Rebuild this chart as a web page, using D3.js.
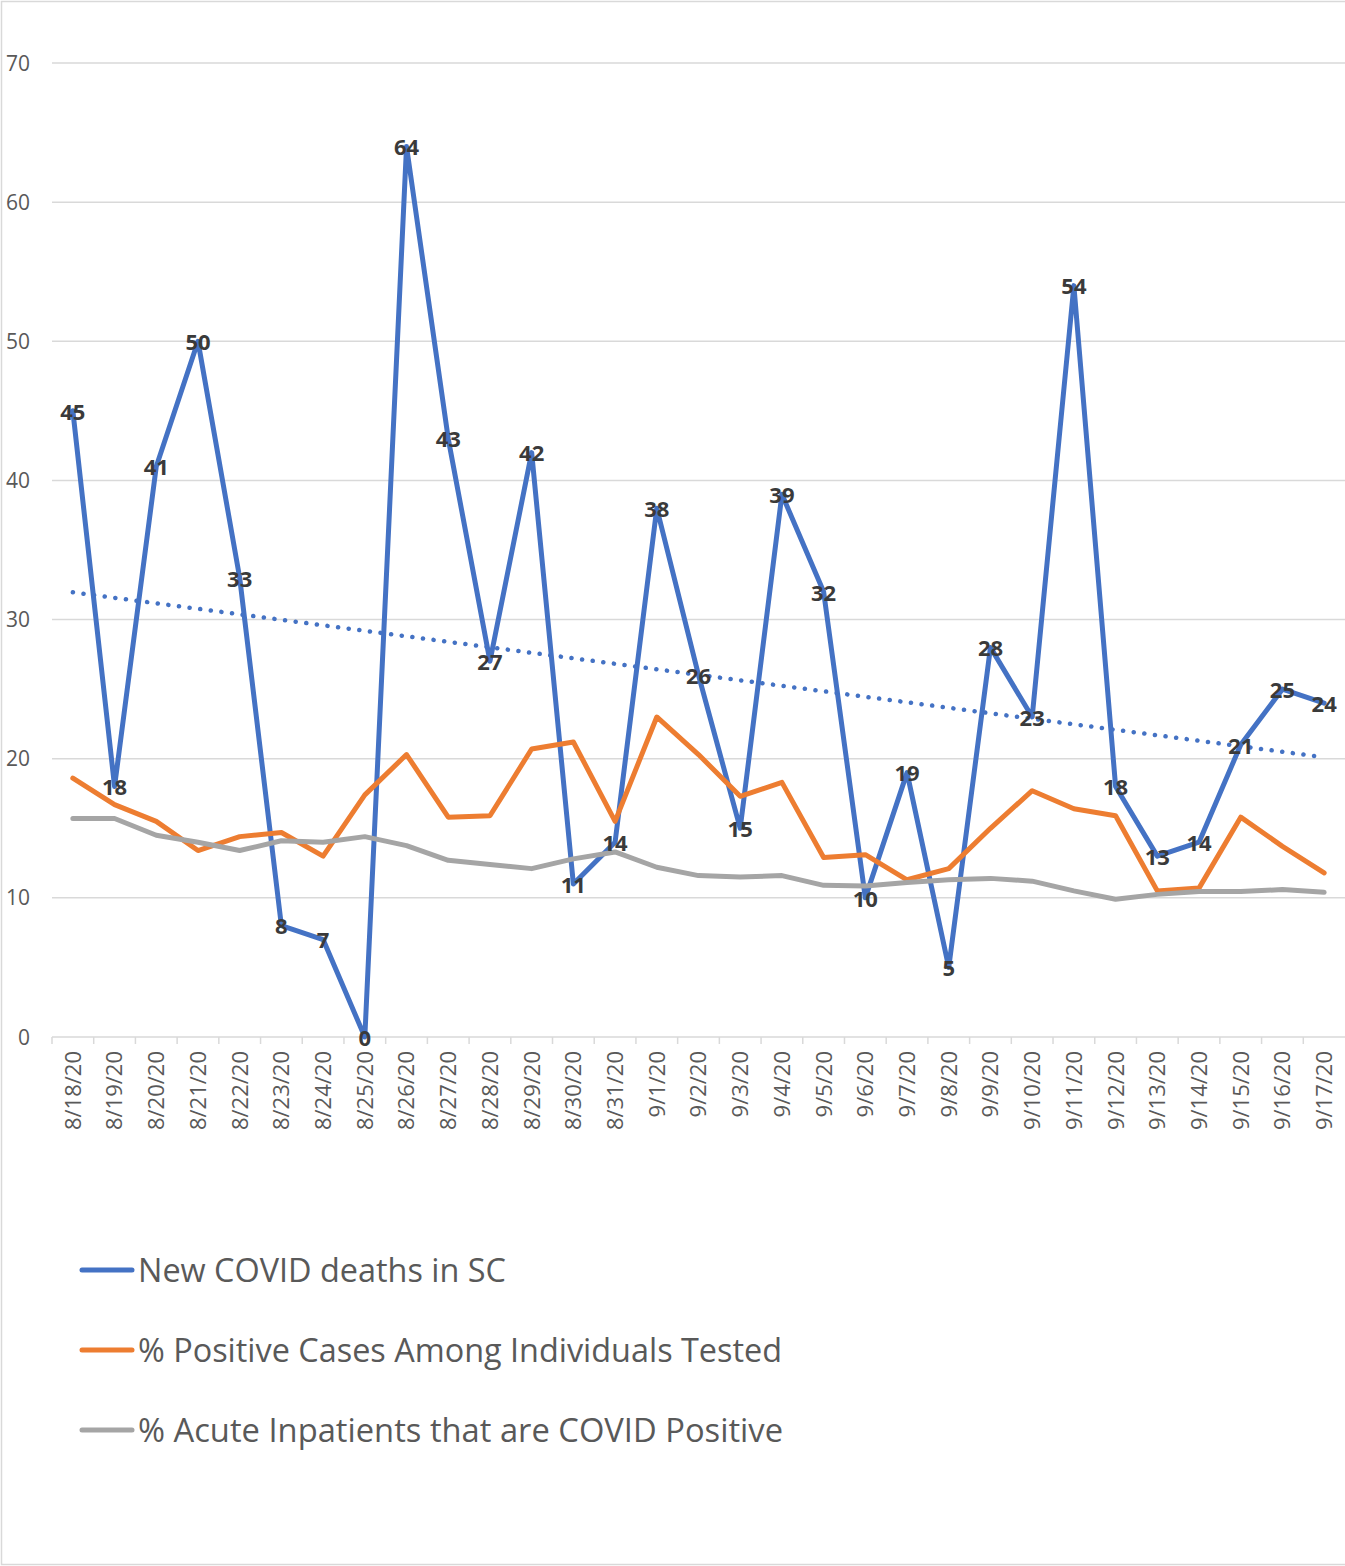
<!DOCTYPE html>
<html>
<head>
<meta charset="utf-8">
<script src="https://cdn.jsdelivr.net/npm/d3@7"></script>
<style>
  body { margin: 0; background: #fff; }
  text { font-family: "Open Sans", sans-serif; }
</style>
</head>
<body>
<svg id="chart" width="1345" height="1566"></svg>
<script>
const dates = ["8/18/20","8/19/20","8/20/20","8/21/20","8/22/20","8/23/20","8/24/20","8/25/20","8/26/20","8/27/20","8/28/20","8/29/20","8/30/20","8/31/20","9/1/20","9/2/20","9/3/20","9/4/20","9/5/20","9/6/20","9/7/20","9/8/20","9/9/20","9/10/20","9/11/20","9/12/20","9/13/20","9/14/20","9/15/20","9/16/20","9/17/20"]
const deaths = [45,18,41,50,33,8,7,0,64,43,27,42,11,14,38,26,15,39,32,10,19,5,28,23,54,18,13,14,21,25,24]
const positivePct = [18.6,16.7,15.5,13.4,14.4,14.7,13.0,17.4,20.3,15.8,15.9,20.7,21.2,15.5,23.0,20.3,17.3,18.3,12.9,13.1,11.3,12.1,15.0,17.7,16.4,15.9,10.5,10.7,15.8,13.7,11.8]
const inpatientPct = [15.7,15.7,14.5,14.0,13.4,14.1,14.0,14.4,13.75,12.7,12.4,12.1,12.8,13.3,12.2,11.6,11.5,11.6,10.9,10.85,11.1,11.3,11.4,11.2,10.5,9.9,10.25,10.45,10.45,10.6,10.4]
const yTicks = [0,10,20,30,40,50,60,70]

const series = [
  { name: "New COVID deaths in SC", values: deaths, color: "#4472C4" },
  { name: "% Positive Cases Among Individuals Tested", values: positivePct, color: "#ED7D31" },
  { name: "% Acute Inpatients that are COVID Positive", values: inpatientPct, color: "#A5A5A5" }
]

const svg = d3.select("#chart")
const plot = { left: 52, right: 1345, top: 63, bottom: 1037 }

const x = d3.scaleBand().domain(dates).range([plot.left, plot.right])
const y = d3.scaleLinear().domain([0, 70]).range([plot.bottom, plot.top])
const cx = (d) => x(d) + x.bandwidth() / 2

// chart border
svg.append("rect")
  .attr("x", 1.5).attr("y", 1.5)
  .attr("width", 1360).attr("height", 1563)
  .attr("fill", "none").attr("stroke", "#D9D9D9").attr("stroke-width", 1.5)

// gridlines
svg.append("g").selectAll("line")
  .data(yTicks.filter(t => t > 0)).enter()
    .append("line")
      .attr("x1", plot.left).attr("x2", plot.right)
      .attr("y1", d => y(d)).attr("y2", d => y(d))
      .attr("stroke", "#D9D9D9").attr("stroke-width", 1.5)

// y axis labels
svg.append("g").selectAll("text")
  .data(yTicks).enter()
    .append("text")
      .attr("x", 30).attr("y", d => y(d))
      .attr("dy", "0.36em")
      .attr("text-anchor", "end")
      .attr("font-size", 21)
      .attr("fill", "#595959")
      .text(d => d)

// x axis
const xAxis = svg.append("g").attr("transform", `translate(0, ${plot.bottom})`)
xAxis.append("line")
  .attr("x1", plot.left).attr("x2", plot.right)
  .attr("stroke", "#D9D9D9").attr("stroke-width", 1.5)
xAxis.selectAll(".tick")
  .data(dates).enter()
    .append("line")
      .attr("x1", d => x(d)).attr("x2", d => x(d))
      .attr("y1", 0).attr("y2", 7)
      .attr("stroke", "#D9D9D9").attr("stroke-width", 1.5)
xAxis.selectAll(".lbl")
  .data(dates).enter()
    .append("text")
      .attr("transform", d => `translate(${cx(d)}, 14)rotate(-90)`)
      .attr("text-anchor", "end")
      .attr("dy", "0.36em")
      .attr("font-size", 22)
      .attr("fill", "#595959")
      .text(d => d)

// series lines
const line = d3.line().x((v, i) => cx(dates[i])).y(v => y(v))
svg.append("g").selectAll("path")
  .data(series).enter()
    .append("path")
      .attr("d", s => line(s.values))
      .attr("fill", "none")
      .attr("stroke", s => s.color)
      .attr("stroke-width", 5)
      .attr("stroke-linejoin", "round")
      .attr("stroke-linecap", "round")

// linear trendline for deaths (least squares)
const n = deaths.length
const mx = d3.mean(deaths, (v, i) => i)
const my = d3.mean(deaths)
const slope = d3.sum(deaths, (v, i) => (i - mx) * (v - my)) / d3.sum(deaths, (v, i) => (i - mx) * (i - mx))
const icpt = my - slope * mx
svg.append("line")
  .attr("x1", cx(dates[0])).attr("y1", y(icpt))
  .attr("x2", cx(dates[n - 1])).attr("y2", y(icpt + slope * (n - 1)))
  .attr("stroke", "#4472C4")
  .attr("stroke-width", 4.5)
  .attr("stroke-linecap", "round")
  .attr("stroke-dasharray", "0.1 10.6")

// data labels on deaths
svg.append("g").selectAll("text")
  .data(deaths).enter()
    .append("text")
      .attr("x", (v, i) => cx(dates[i]))
      .attr("y", v => y(v))
      .attr("dy", "0.4em")
      .attr("text-anchor", "middle")
      .attr("font-size", 22)
      .attr("font-weight", "bold")
      .attr("fill", "#3A3A3A")
      .text(v => v)

// legend
const legendY = [1270, 1350, 1430]
const legendW = [368, 644, 645]
const legend = svg.append("g").selectAll("g")
  .data(series).enter()
    .append("g")
      .attr("transform", (s, i) => `translate(0, ${legendY[i]})`)
legend.append("line")
  .attr("x1", 82).attr("x2", 132)
  .attr("stroke", s => s.color)
  .attr("stroke-width", 5)
  .attr("stroke-linecap", "round")
legend.append("text")
  .attr("x", 138)
  .attr("dy", "0.36em")
  .attr("font-size", 32)
  .attr("fill", "#595959")
  .attr("textLength", (s, i) => legendW[i])
  .attr("lengthAdjust", "spacingAndGlyphs")
  .text(s => s.name)
</script>
</body>
</html>
